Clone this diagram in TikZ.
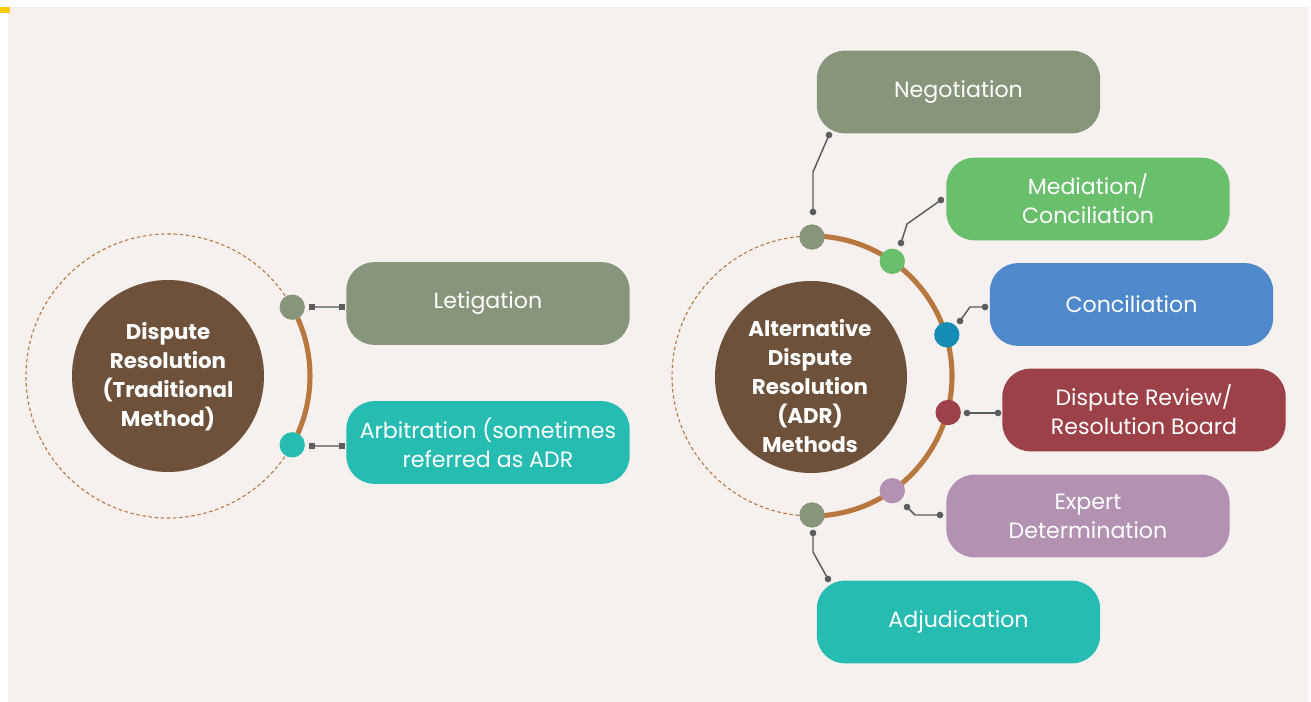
\documentclass[tikz,border=0pt]{standalone}
\usepackage{fontspec}
\setmainfont{Poppins}
\usetikzlibrary{calc}
\definecolor{paper}{HTML}{F6F1EE}
\definecolor{accentyellow}{HTML}{FFC90E}
\definecolor{hub}{HTML}{6E513A}
\definecolor{ring}{HTML}{B8773F}
\definecolor{sage}{HTML}{87967A}
\definecolor{teal}{HTML}{26BCB1}
\definecolor{leaf}{HTML}{69BF6C}
\definecolor{sky}{HTML}{4F89CB}
\definecolor{ocean}{HTML}{168BB5}
\definecolor{wine}{HTML}{9D4148}
\definecolor{lilac}{HTML}{B291B3}
\definecolor{wire}{HTML}{5C5C5C}
\definecolor{wirelight}{HTML}{8A8A8A}
\tikzset{
  hubnode/.style={circle, fill=hub, minimum size=144pt, inner sep=0pt},
  hubtext/.style={text=white, align=center, inner sep=0pt,
    font=\fontsize{16}{21.8}\selectfont\bfseries},
  pill/.style={rounded corners=21pt, minimum width=212.5pt, minimum height=62pt,
    inner sep=0pt, text=white, align=center, font=\fontsize{16.6}{21.8}\selectfont},
  knob/.style={circle, minimum size=19pt, inner sep=0pt},
  dashring/.style={draw=ring, line width=0.8pt, dash pattern=on 2.6pt off 2pt},
  solidring/.style={draw=ring, line width=3.8pt},
  pin/.style={circle, fill=wire, minimum size=5pt, inner sep=0pt},
  tab/.style={rectangle, fill=wire, minimum size=4.5pt, inner sep=0pt},
  wireline/.style={draw=wire, line width=1.1pt},
  lightwire/.style={draw=wirelight, line width=1.6pt}
}
\begin{document}
\begin{tikzpicture}[x=0.75pt,y=-0.75pt]
% page and backdrop
\useasboundingbox (0,0) rectangle (1311,702);
\fill[white] (0,0) rectangle (1311,702);
\fill[paper] (8,7) rectangle (1309,702);
\fill[accentyellow] (0,7) rectangle (10,13);

% ---------- traditional method ----------
\coordinate (L) at (168,376);
\draw[dashring] (L) circle[radius=142];
\draw[solidring] ($(L)+(-29:142)$) arc[start angle=-29, end angle=29, radius=142];
\node[hubnode] (lhub) at (L) {};
\node[hubtext] (lhubtext) at (168,377) {Dispute\\Resolution\\(Traditional\\Method)};
\node[knob, fill=sage] (lk1) at ($(L)+(-29:142)$) {};
\node[knob, fill=teal] (lk2) at ($(L)+(29:142)$) {};

\node[pill, fill=sage] (lit) at (488,303.5) {Letigation};
\node[pill, fill=teal] (arb) at (488,442.5) {Arbitration (sometimes\\referred as ADR};

\node[tab] (ta1) at (312,307) {};
\node[tab] (tb1) at (342,307) {};
\node[tab] (ta2) at (312,446) {};
\node[tab] (tb2) at (342,446) {};
\draw[lightwire] (ta1) -- (tb1);
\draw[lightwire] (ta2) -- (tb2);

% ---------- ADR methods ----------
\coordinate (R) at (812,376);
\draw[dashring] (R) circle[radius=140];
\draw[solidring] ($(R)+(-90:140)$) arc[start angle=-90, end angle=90, radius=140];
\node[hubnode] (rhub) at (811,377) {};
\node[hubtext] (rhubtext) at (810,386) {Alternative\\Dispute\\Resolution\\(ADR)\\Methods};

\node[knob, fill=sage]  (k1) at ($(R)+(-90:139)$) {};
\node[knob, fill=leaf]  (k2) at ($(R)+(-55:140)$) {};
\node[knob, fill=ocean] (k3) at ($(R)+(-17:141)$) {};
\node[knob, fill=wine]  (k4) at ($(R)+(15:141)$) {};
\node[knob, fill=lilac] (k5) at ($(R)+(55:140)$) {};
\node[knob, fill=sage]  (k6) at ($(R)+(90:139)$) {};

\node[pill, fill=sage]  (neg) at (958.5,92)    {Negotiation};
\node[pill, fill=leaf]  (med) at (1088,199)    {Mediation/\\Conciliation};
\node[pill, fill=sky]   (con) at (1131.5,304.5){Conciliation};
\node[pill, fill=wine]  (drb) at (1144,410)    {Dispute Review/\\Resolution Board};
\node[pill, fill=lilac] (exp) at (1088,516)    {Expert\\Determination};
\node[pill, fill=teal]  (adj) at (958.5,622)   {Adjudication};

% leader lines with end pins
\node[pin] (p1a) at (813,212) {};  \node[pin] (p1b) at (829,135) {};
\node[pin] (p2a) at (901,243) {};  \node[pin] (p2b) at (941,200) {};
\node[pin] (p3a) at (960,321) {};  \node[pin] (p3b) at (985,307) {};
\node[pin] (p4a) at (967,413) {};  \node[pin] (p4b) at (998,413) {};
\node[pin] (p5a) at (907,507) {};  \node[pin] (p5b) at (940,515) {};
\node[pin] (p6a) at (813,533) {};  \node[pin] (p6b) at (828,579) {};

\draw[wireline] (p1a.center) -- (813,172) -- (p1b.center);
\draw[wireline] (p2a.center) -- (907,224) -- (p2b.center);
\draw[wireline] (p3a.center) -- (970,307) -- (p3b.center);
\draw[wireline] (p4a.center) -- (p4b.center);
\draw[wireline] (p5a.center) -- (915,515) -- (p5b.center);
\draw[wireline] (p6a.center) -- (813,552) -- (p6b.center);
\end{tikzpicture}
\end{document}
